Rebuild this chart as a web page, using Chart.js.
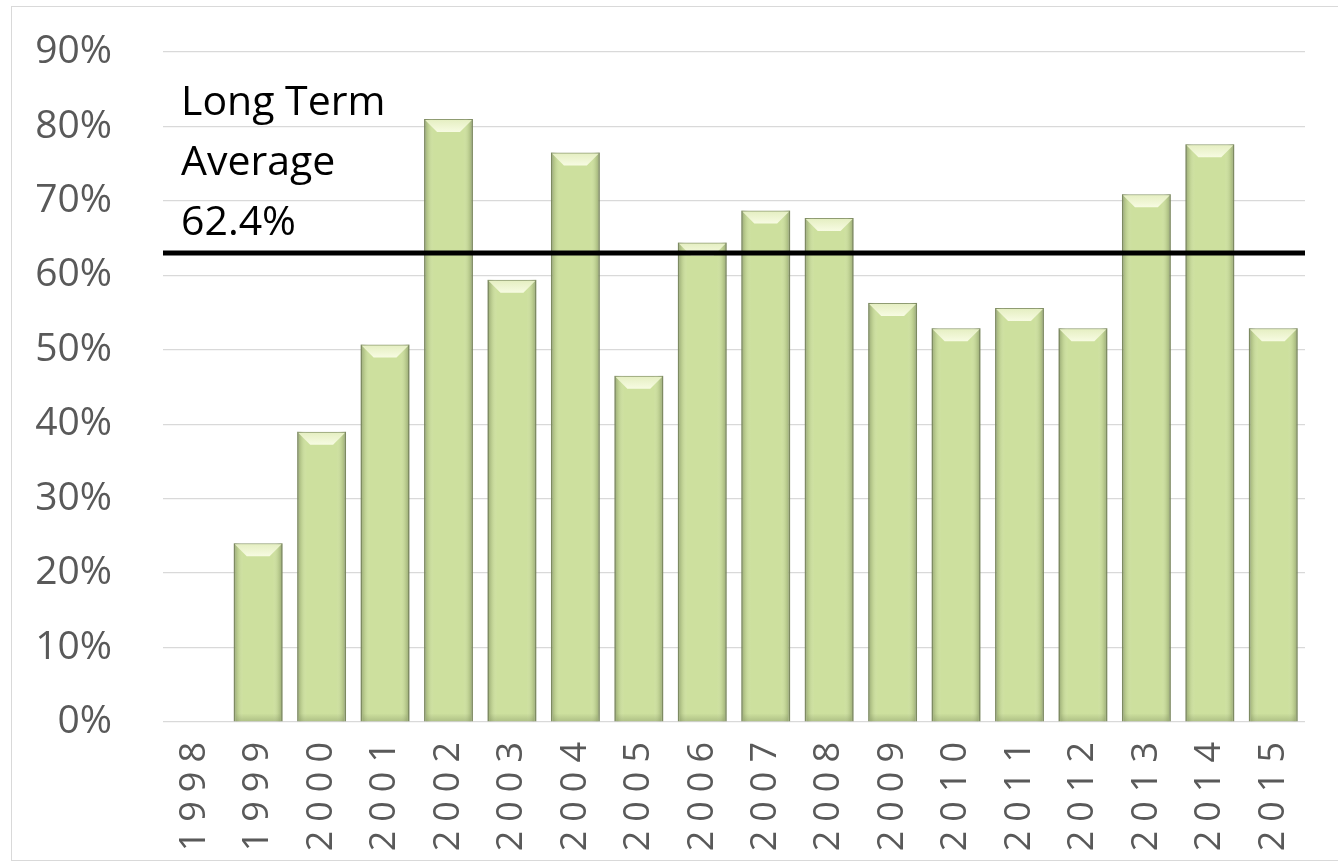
<!DOCTYPE html>
<html>
<head>
<meta charset="utf-8">
<script src="https://cdn.jsdelivr.net/npm/chart.js@4"></script>
<style>
  html, body { margin: 0; padding: 0; background: #ffffff; overflow: hidden; }
  #wrap { position: absolute; left: 0; top: 0; width: 1338px; height: 867px; overflow: hidden; }
  #frame { position: absolute; left: 11px; top: 6px; width: 1340px; height: 855px; border: 1px solid #d9d9d9; box-sizing: border-box; pointer-events: none; }
  canvas { position: absolute; left: 0; top: 0; }
</style>
</head>
<body>
<div id="wrap">
  <canvas id="c" width="1338" height="867"></canvas>
  <div id="frame"></div>
</div>
<script>
const years = ['1998','1999','2000','2001','2002','2003','2004','2005','2006','2007','2008','2009','2010','2011','2012','2013','2014','2015'];
const shareValues = [null, 24, 39, 50.7, 81, 59.4, 76.5, 46.5, 64.4, 68.7, 67.7, 56.3, 52.9, 55.6, 52.9, 70.9, 77.6, 52.9];
const yTicks = [0, 10, 20, 30, 40, 50, 60, 70, 80, 90];
const averageValue = 63;
const averageLabel = ['Long Term', 'Average', '62.4%'];

const bevelPlugin = {
  id: 'bevel',
  afterDatasetsDraw(chart) {
    const ctx = chart.ctx;
    const meta = chart.getDatasetMeta(0);
    meta.data.forEach(bar => {
      const p = bar.getProps(['x', 'y', 'base', 'width'], true);
      if (p.y == null || isNaN(p.y) || p.base - p.y < 2) return;
      const l = p.x - p.width / 2, r = p.x + p.width / 2, h = p.base - p.y;
      ctx.save();
      const g = ctx.createLinearGradient(l, 0, r, 0);
      g.addColorStop(0, 'rgba(105,118,78,0.55)');
      g.addColorStop(0.09, 'rgba(120,135,90,0.18)');
      g.addColorStop(0.2, 'rgba(255,255,255,0)');
      g.addColorStop(0.8, 'rgba(255,255,255,0)');
      g.addColorStop(0.91, 'rgba(120,135,90,0.18)');
      g.addColorStop(1, 'rgba(105,118,78,0.55)');
      ctx.fillStyle = g;
      ctx.fillRect(l, p.y, p.width, h);
      const b = Math.min(13, h / 2);
      ctx.beginPath();
      ctx.moveTo(l + 1, p.y + 1);
      ctx.lineTo(r - 1, p.y + 1);
      ctx.lineTo(r - b, p.y + b);
      ctx.lineTo(l + b, p.y + b);
      ctx.closePath();
      const cg = ctx.createLinearGradient(0, p.y, 0, p.y + b);
      cg.addColorStop(0, '#e4eec0');
      cg.addColorStop(1, '#f7fbe2');
      ctx.fillStyle = cg;
      ctx.fill();
      const bb = Math.min(8, h / 3);
      const bg = ctx.createLinearGradient(0, p.base - bb, 0, p.base);
      bg.addColorStop(0, 'rgba(120,135,90,0)');
      bg.addColorStop(1, 'rgba(120,135,90,0.35)');
      ctx.fillStyle = bg;
      ctx.fillRect(l + 2, p.base - bb, p.width - 4, bb);
      ctx.restore();
    });
    // long-term average line and label
    const ys = chart.scales.y;
    const area = chart.chartArea;
    const ly = ys.getPixelForValue(averageValue);
    ctx.save();
    ctx.strokeStyle = '#000000';
    ctx.lineWidth = 5;
    ctx.beginPath();
    ctx.moveTo(area.left, ly);
    ctx.lineTo(area.right, ly);
    ctx.stroke();
    ctx.fillStyle = '#000000';
    ctx.font = '41px "Open Sans"';
    ctx.textAlign = 'left';
    ctx.textBaseline = 'alphabetic';
    const n = averageLabel.length;
    averageLabel.forEach((t, i) => {
      ctx.fillText(t, area.left + 18, ly - 18 - (n - 1 - i) * 60);
    });
    ctx.restore();
  },
  afterUpdate(chart) {
    const xs = chart.scales.x;
    if (xs && !xs._spacedPatch) {
      const orig = xs.drawLabels;
      xs.drawLabels = function (a) {
        const ctx = this.ctx;
        ctx.save();
        try { ctx.letterSpacing = '9px'; } catch (e) {}
        orig.call(this, a);
        ctx.restore();
      };
      xs._spacedPatch = true;
    }
  }
};

new Chart(document.getElementById('c'), {
  type: 'bar',
  data: {
    labels: years,
    datasets: [{
      data: shareValues,
      backgroundColor: '#cde09e',
      borderColor: '#8f9c72',
      borderWidth: 1.5,
      barPercentage: 0.77,
      categoryPercentage: 1.0
    }]
  },
  options: {
    responsive: false,
    animation: false,
    layout: { padding: { left: 0, right: 33, top: 52, bottom: 0 } },
    plugins: { legend: { display: false }, tooltip: { enabled: false } },
    scales: {
      x: {
        grid: { display: false },
        border: { display: false },
        ticks: {
          autoSkip: false,
          minRotation: 90,
          maxRotation: 90,
          padding: 3,
          color: '#595959',
          font: { family: '"Open Sans"', size: 36 }
        },
        afterFit(s) { s.height = 145; }
      },
      y: {
        min: 0,
        max: 90,
        afterBuildTicks(s) { s.ticks = yTicks.map(v => ({ value: v })); },
        grid: { color: '#d9d9d9', lineWidth: 1.3, drawTicks: false },
        border: { display: false },
        ticks: {
          padding: 51,
          color: '#595959',
          font: { family: '"Open Sans"', size: 39 },
          callback: v => v + '%'
        },
        afterFit(s) { s.width = 163; s.paddingTop = 0; s.paddingBottom = 0; }
      }
    }
  },
  plugins: [bevelPlugin]
});
</script>
</body>
</html>
